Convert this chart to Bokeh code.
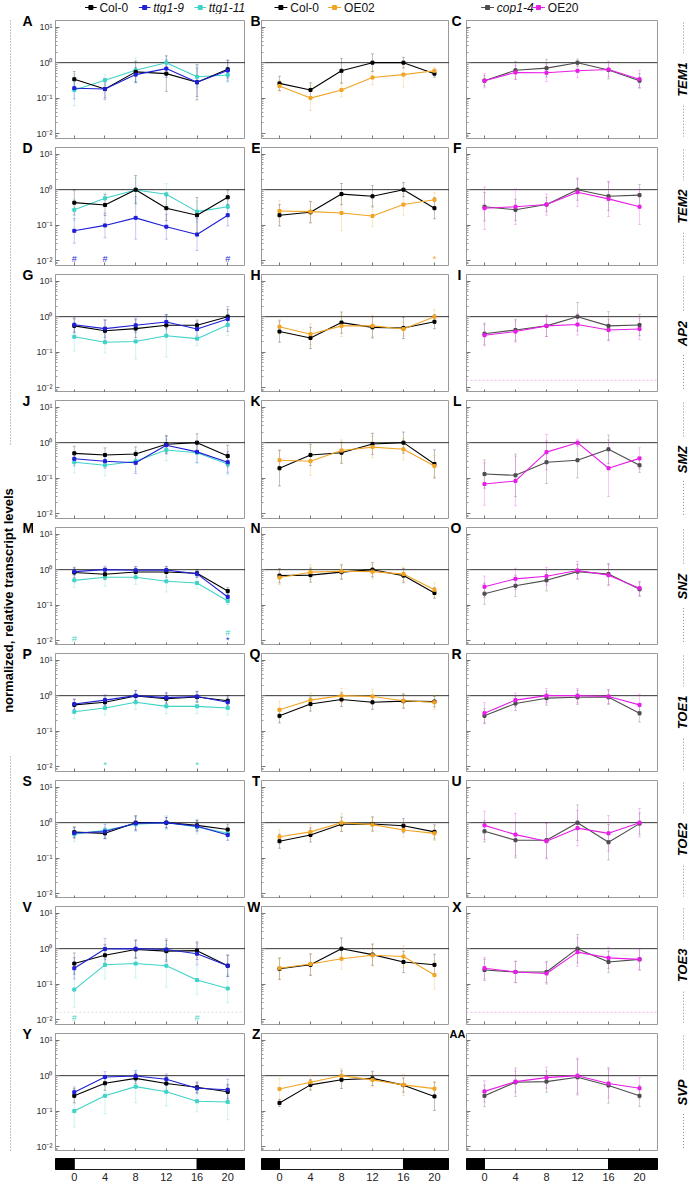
import math
from bokeh.plotting import figure
from bokeh.models import (Range1d, FixedTicker, Span, ColumnDataSource, Whisker, TeeHead)
from bokeh.layouts import row, column
from bokeh.embed import file_html
from bokeh.resources import INLINE
from bokeh.core.properties import value

# ---------------- data ----------------
hours = [0, 4, 8, 12, 16, 20]
light_start = [0]
light_end = [16]
dark_start = [-8, 16]
dark_end = [0, 24]

genes = ["TEM1", "TEM2", "AP2", "SMZ", "SNZ", "TOE1", "TOE2", "TOE3", "SVP"]
letters = [["A", "B", "C"], ["D", "E", "F"], ["G", "H", "I"], ["J", "K", "L"],
           ["M", "N", "O"], ["P", "Q", "R"], ["S", "T", "U"], ["V", "W", "X"],
           ["Y", "Z", "AA"]]

y_ticks = [0.01, 0.1, 1, 10]
y_tick_labels = ["10\u207b\u00b2", "10\u207b\u00b9", "10\u2070", "10\u00b9"]

# values (relative transcript levels) and error half-widths (in decades)
A_col0 = [0.34, 0.18, 0.55, 0.49, 0.28, 0.65];   A_col0_err = [0.22, 0.25, 0.3, 0.5, 0.5, 0.25]
A_ttg19 = [0.19, 0.18, 0.46, 0.68, 0.28, 0.60];  A_ttg19_err = [0.3, 0.3, 0.2, 0.25, 0.4, 0.3]
A_ttg111 = [0.17, 0.32, 0.61, 1.0, 0.40, 0.45];  A_ttg111_err = [0.45, 0.15, 0.35, 0.2, 0.3, 0.2]
B_col0 = [0.26, 0.17, 0.59, 1.0, 1.0, 0.49];     B_col0_err = [0.2, 0.2, 0.35, 0.25, 0.15, 0.1]
B_oe02 = [0.22, 0.10, 0.17, 0.38, 0.46, 0.59];   B_oe02_err = [0.15, 0.35, 0.2, 0.2, 0.35, 0.1]
C_cop14 = [0.31, 0.61, 0.70, 1.0, 0.62, 0.31];   C_cop14_err = [0.15, 0.25, 0.25, 0.1, 0.25, 0.2]
C_oe20 = [0.31, 0.53, 0.52, 0.59, 0.64, 0.34];   C_oe20_err = [0.2, 0.2, 0.25, 0.2, 0.2, 0.25]

D_col0 = [0.43, 0.37, 1.0, 0.30, 0.19, 0.61];    D_col0_err = [0.35, 0.3, 0.4, 0.35, 0.5, 0.2]
D_ttg19 = [0.069, 0.098, 0.16, 0.09, 0.054, 0.19]; D_ttg19_err = [0.35, 0.35, 0.6, 0.35, 0.45, 0.3]
D_ttg111 = [0.27, 0.57, 0.98, 0.74, 0.24, 0.33]; D_ttg111_err = [0.3, 0.15, 0.35, 0.3, 0.3, 0.2]
E_col0 = [0.19, 0.23, 0.75, 0.65, 1.0, 0.30];    E_col0_err = [0.3, 0.3, 0.3, 0.3, 0.2, 0.3]
E_oe02 = [0.25, 0.24, 0.22, 0.18, 0.38, 0.52];   E_oe02_err = [0.3, 0.3, 0.5, 0.3, 0.3, 0.2]
F_cop14 = [0.33, 0.27, 0.38, 1.0, 0.65, 0.70];   F_cop14_err = [0.4, 0.3, 0.2, 0.3, 0.4, 0.3]
F_oe20 = [0.30, 0.33, 0.38, 0.85, 0.55, 0.33];   F_oe20_err = [0.6, 0.5, 0.3, 0.4, 0.5, 0.5]

G_col0 = [0.55, 0.40, 0.46, 0.57, 0.57, 1.0];    G_col0_err = [0.2, 0.3, 0.25, 0.3, 0.15, 0.2]
G_ttg19 = [0.59, 0.46, 0.57, 0.71, 0.45, 0.86];  G_ttg19_err = [0.2, 0.25, 0.2, 0.2, 0.2, 0.35]
G_ttg111 = [0.27, 0.19, 0.20, 0.29, 0.24, 0.58]; G_ttg111_err = [0.4, 0.3, 0.5, 0.6, 0.2, 0.3]
H_col0 = [0.38, 0.25, 0.68, 0.50, 0.48, 0.72];   H_col0_err = [0.3, 0.3, 0.3, 0.3, 0.3, 0.2]
H_oe02 = [0.52, 0.32, 0.55, 0.55, 0.45, 1.0];    H_oe02_err = [0.2, 0.3, 0.3, 0.3, 0.2, 0.2]
I_cop14 = [0.33, 0.42, 0.55, 1.0, 0.55, 0.58];   I_cop14_err = [0.3, 0.3, 0.3, 0.4, 0.4, 0.3]
I_oe20 = [0.30, 0.38, 0.55, 0.60, 0.42, 0.45];   I_oe20_err = [0.3, 0.3, 0.3, 0.3, 0.3, 0.3]

J_col0 = [0.50, 0.45, 0.48, 0.90, 1.0, 0.42];    J_col0_err = [0.2, 0.2, 0.2, 0.25, 0.25, 0.3]
J_ttg19 = [0.35, 0.30, 0.27, 0.85, 0.55, 0.28];  J_ttg19_err = [0.2, 0.2, 0.3, 0.25, 0.3, 0.3]
J_ttg111 = [0.28, 0.23, 0.30, 0.62, 0.52, 0.25]; J_ttg111_err = [0.3, 0.3, 0.3, 0.3, 0.3, 0.3]
K_col0 = [0.19, 0.45, 0.52, 0.92, 1.0, 0.25];    K_col0_err = [0.5, 0.3, 0.3, 0.3, 0.3, 0.4]
K_oe02 = [0.32, 0.30, 0.60, 0.75, 0.65, 0.22];   K_oe02_err = [0.3, 0.4, 0.3, 0.3, 0.3, 0.3]
L_cop14 = [0.13, 0.12, 0.28, 0.32, 0.65, 0.23];  L_cop14_err = [0.4, 0.6, 0.6, 0.5, 0.4, 0.2]
L_oe20 = [0.068, 0.083, 0.54, 1.0, 0.19, 0.36];  L_oe20_err = [0.6, 0.7, 0.5, 0.1, 0.8, 0.3]

M_col0 = [0.83, 0.74, 0.86, 0.86, 0.79, 0.25];   M_col0_err = [0.15, 0.15, 0.15, 0.15, 0.1, 0.1]
M_ttg19 = [0.88, 1.0, 0.96, 0.98, 0.76, 0.17];   M_ttg19_err = [0.1, 0.1, 0.1, 0.1, 0.1, 0.1]
M_ttg111 = [0.50, 0.61, 0.61, 0.47, 0.42, 0.13]; M_ttg111_err = [0.2, 0.25, 0.2, 0.3, 0.15, 0.1]
N_col0 = [0.68, 0.70, 0.85, 1.0, 0.68, 0.22];    N_col0_err = [0.2, 0.2, 0.2, 0.2, 0.2, 0.15]
N_oe02 = [0.60, 0.85, 0.90, 0.88, 0.75, 0.27];   N_oe02_err = [0.2, 0.2, 0.2, 0.2, 0.2, 0.2]
O_cop14 = [0.21, 0.35, 0.50, 0.88, 0.75, 0.28];  O_cop14_err = [0.3, 0.3, 0.3, 0.2, 0.3, 0.2]
O_oe20 = [0.33, 0.55, 0.65, 0.95, 0.70, 0.30];   O_oe20_err = [0.3, 0.3, 0.25, 0.25, 0.3, 0.2]

P_col0 = [0.55, 0.65, 0.98, 0.82, 0.92, 0.72];   P_col0_err = [0.15, 0.15, 0.15, 0.15, 0.15, 0.15]
P_ttg19 = [0.58, 0.75, 1.0, 0.88, 0.95, 0.65];   P_ttg19_err = [0.15, 0.15, 0.15, 0.15, 0.15, 0.15]
P_ttg111 = [0.35, 0.45, 0.65, 0.50, 0.50, 0.45]; P_ttg111_err = [0.2, 0.2, 0.2, 0.2, 0.2, 0.2]
Q_col0 = [0.27, 0.58, 0.78, 0.65, 0.70, 0.68];   Q_col0_err = [0.2, 0.2, 0.2, 0.2, 0.2, 0.15]
Q_oe02 = [0.40, 0.75, 1.0, 0.95, 0.72, 0.65];    Q_oe02_err = [0.25, 0.2, 0.2, 0.2, 0.2, 0.2]
R_cop14 = [0.27, 0.60, 0.85, 0.90, 0.90, 0.32];  R_cop14_err = [0.2, 0.2, 0.2, 0.2, 0.2, 0.25]
R_oe20 = [0.32, 0.75, 1.0, 1.0, 0.95, 0.55];     R_oe20_err = [0.3, 0.2, 0.2, 0.2, 0.2, 0.3]

S_col0 = [0.54, 0.50, 1.0, 1.0, 0.84, 0.64];     S_col0_err = [0.15, 0.15, 0.2, 0.15, 0.15, 0.15]
S_ttg19 = [0.51, 0.56, 0.96, 1.0, 0.79, 0.45];   S_ttg19_err = [0.15, 0.2, 0.2, 0.15, 0.15, 0.15]
S_ttg111 = [0.47, 0.61, 0.90, 1.0, 0.76, 0.50];  S_ttg111_err = [0.2, 0.2, 0.2, 0.2, 0.2, 0.2]
T_col0 = [0.30, 0.45, 0.90, 0.92, 0.82, 0.55];   T_col0_err = [0.2, 0.2, 0.2, 0.2, 0.2, 0.2]
T_oe02 = [0.40, 0.55, 1.0, 0.88, 0.62, 0.50];    T_oe02_err = [0.2, 0.2, 0.25, 0.2, 0.2, 0.2]
U_cop14 = [0.57, 0.32, 0.32, 1.0, 0.28, 0.94];   U_cop14_err = [0.3, 0.5, 0.5, 0.5, 0.5, 0.3]
U_oe20 = [0.84, 0.46, 0.30, 0.70, 0.50, 1.0];    U_oe20_err = [0.4, 0.6, 0.5, 0.5, 0.5, 0.4]

V_col0 = [0.38, 0.65, 0.95, 0.85, 0.88, 0.33];   V_col0_err = [0.3, 0.3, 0.25, 0.3, 0.25, 0.3]
V_ttg19 = [0.28, 0.98, 1.0, 0.95, 0.72, 0.33];   V_ttg19_err = [0.3, 0.3, 0.25, 0.3, 0.3, 0.3]
V_ttg111 = [0.07, 0.35, 0.38, 0.33, 0.13, 0.075]; V_ttg111_err = [0.5, 0.4, 0.4, 0.6, 0.4, 0.4]
W_col0 = [0.27, 0.35, 1.0, 0.68, 0.42, 0.35];    W_col0_err = [0.3, 0.3, 0.3, 0.3, 0.3, 0.3]
W_oe02 = [0.28, 0.37, 0.52, 0.65, 0.60, 0.18];   W_oe02_err = [0.3, 0.3, 0.3, 0.3, 0.3, 0.4]
X_cop14 = [0.25, 0.22, 0.22, 1.0, 0.42, 0.50];   X_cop14_err = [0.3, 0.3, 0.3, 0.4, 0.3, 0.3]
X_oe20 = [0.28, 0.22, 0.20, 0.80, 0.55, 0.50];   X_oe20_err = [0.3, 0.3, 0.3, 0.4, 0.3, 0.3]

Y_col0 = [0.27, 0.61, 0.84, 0.60, 0.47, 0.35];   Y_col0_err = [0.2, 0.2, 0.15, 0.2, 0.15, 0.2]
Y_ttg19 = [0.34, 0.92, 0.98, 0.79, 0.44, 0.40];  Y_ttg19_err = [0.15, 0.15, 0.15, 0.15, 0.15, 0.3]
Y_ttg111 = [0.10, 0.27, 0.49, 0.35, 0.19, 0.18]; Y_ttg111_err = [0.45, 0.5, 0.45, 0.4, 0.3, 0.5]
Z_col0 = [0.17, 0.55, 0.77, 0.84, 0.54, 0.26];   Z_col0_err = [0.1, 0.15, 0.25, 0.2, 0.2, 0.4]
Z_oe02 = [0.42, 0.65, 1.0, 0.76, 0.55, 0.43];    Z_oe02_err = [0.3, 0.2, 0.2, 0.2, 0.3, 0.2]
AA_cop14 = [0.27, 0.65, 0.68, 0.90, 0.53, 0.27]; AA_cop14_err = [0.3, 0.4, 0.3, 0.5, 0.5, 0.3]
AA_oe20 = [0.36, 0.68, 0.88, 1.0, 0.60, 0.44];   AA_oe20_err = [0.3, 0.3, 0.3, 0.5, 0.4, 0.3]

# significance marks: (panel, series, hour, symbol, level)
sig_marks = [
    ("D", "ttg19", 0, "#", 0.011), ("D", "ttg19", 4, "#", 0.011), ("D", "ttg19", 20, "#", 0.011),
    ("E", "oe02", 20, "*", 0.011),
    ("M", "ttg111", 0, "#", 0.011), ("M", "ttg111", 20, "#", 0.016), ("M", "ttg19", 20, "*", 0.0105),
    ("P", "ttg111", 4, "*", 0.011), ("P", "ttg111", 16, "*", 0.011),
    ("V", "ttg111", 0, "#", 0.011), ("V", "ttg111", 16, "#", 0.011),
]

# ---------------- styles / layout ----------------
SERIES = {
    "col0": ("Col-0", "#000000", "normal"),
    "ttg19": ("ttg1-9", "#1f1fd6", "italic"),
    "ttg111": ("ttg1-11", "#3fd3c8", "italic"),
    "oe02": ("OE02", "#f2a424", "normal"),
    "cop14": ("cop1-4", "#4d4d4d", "italic"),
    "oe20": ("OE20", "#e61ee6", "normal"),
}
COL_SERIES = [["ttg111", "col0", "ttg19"], ["col0", "oe02"], ["cop14", "oe20"]]
LEGEND_ORDER = [["col0", "ttg19", "ttg111"], ["col0", "oe02"], ["cop14", "oe20"]]
LEGEND_X = [[33, 93, 155], [13, 67], [15, 67]]
FAINT = {"I": "#e61ee6", "V": "#aaaaaa", "X": "#e61ee6"}

FONT = "Liberation Sans"
FRAME_H = 118
TOP_B = [6, 8, 8, 8, 8, 8, 8, 8, 8]
BOTTOM_B = [1, 1, 0, 1, 0, 1, 0, 1, 0]
# (left border, frame width, right border, x start, x end)
COLS = [(20, 192, 0, -2.45, 22.32), (1, 188, 0, -2.32, 21.94), (1, 191, 3, -2.32, 22.32)]
Y0, Y1 = 10 ** -2.14, 10 ** 1.19
TOTAL_H = 1183
LEGEND_H = 14
FRAME_TOPS = [20, 147, 274, 400, 527, 653, 780, 906, 1033]

data = globals()


def strip(width, height=TOTAL_H, flip=True):
    p = figure(width=width, height=height, x_range=Range1d(0, width),
               y_range=Range1d(height, 0) if flip else Range1d(0, height),
               x_axis_location=None, y_axis_location=None,
               min_border=0, output_backend="svg", toolbar_location=None)
    p.grid.visible = False
    p.outline_line_color = None
    return p


def add_letters(p, c, x, align):
    for r in range(9):
        txt = letters[r][c]
        long_txt = len(txt) > 1
        p.text(x=[0 if long_txt else x], y=[FRAME_TOPS[r]], text=[txt],
               text_font=value(FONT), text_font_style="bold",
               text_font_size="11px" if long_txt else "14px",
               text_align="left" if long_txt else align,
               text_baseline="alphabetic", text_color="black")


def make_panel(r, c):
    letter = letters[r][c]
    top = TOP_B[r]
    bottom = BOTTOM_B[r]
    left, fw, right, xs, xe = COLS[c]
    p = figure(width=left + fw + right, height=top + FRAME_H + bottom,
               y_axis_type="log", x_range=Range1d(xs, xe), y_range=Range1d(Y0, Y1),
               output_backend="svg", toolbar_location=None,
               min_border_left=left, min_border_right=right,
               min_border_top=top, min_border_bottom=bottom)
    p.grid.visible = False
    p.outline_line_color = "#9a9a9a"
    p.background_fill_color = "white"
    p.border_fill_color = "white"

    ya = p.yaxis[0]
    ya.ticker = FixedTicker(ticks=y_ticks,
                            minor_ticks=[m * 10.0 ** e for e in range(-3, 2) for m in range(2, 10)])
    ya.axis_line_color = "#9a9a9a"
    ya.major_tick_in = 4
    ya.major_tick_out = 0
    ya.minor_tick_in = 2
    ya.minor_tick_out = 0
    ya.major_tick_line_color = "#777777"
    ya.minor_tick_line_color = "#999999"
    if c == 0:
        ya.major_label_overrides = dict(zip(y_ticks, y_tick_labels))
        ya.major_label_text_font = FONT
        ya.major_label_text_font_size = "9px"
        ya.major_label_text_color = "#333333"
        ya.major_label_standoff = 3
    else:
        ya.major_label_text_font_size = "1px"
        ya.major_label_text_alpha = 0
        ya.major_label_standoff = 0

    xa = p.xaxis[0]
    xa.ticker = FixedTicker(ticks=hours)
    xa.axis_line_color = None
    xa.major_tick_in = 3
    xa.major_tick_out = 0
    xa.minor_tick_line_color = None
    xa.major_tick_line_color = "#777777"
    xa.major_label_text_font_size = "1px"
    xa.major_label_text_alpha = 0
    xa.major_label_standoff = 0

    p.add_layout(Span(location=1, dimension="width", line_color="#333333",
                      line_width=1, level="underlay"))
    if letter in FAINT:
        p.add_layout(Span(location=0.016, dimension="width", line_color=FAINT[letter],
                          line_width=1, line_alpha=0.35, line_dash="2 2", level="underlay"))

    for key in COL_SERIES[c]:
        vals = data[f"{letter}_{key}"]
        errs = data[f"{letter}_{key}_err"]
        label, color, style = SERIES[key]
        lo = [v / 10 ** e for v, e in zip(vals, errs)]
        hi = [v * 10 ** e for v, e in zip(vals, errs)]
        src = ColumnDataSource(dict(base=hours, lower=lo, upper=hi))
        p.add_layout(Whisker(source=src, base="base", lower="lower", upper="upper",
                             line_color=color, line_alpha=0.25, line_width=1,
                             upper_head=TeeHead(size=3, line_color=color, line_alpha=0.25),
                             lower_head=TeeHead(size=3, line_color=color, line_alpha=0.25),
                             level="underlay"))
        p.line(hours, vals, line_color=color, line_width=1.1)
        p.scatter(hours, vals, marker="square", size=3, fill_color=color, line_color=color)

    for (pl, key, hx, sym, lvl) in sig_marks:
        if pl == letter:
            p.text(x=[hx], y=[lvl], text=[sym], text_color=SERIES[key][1],
                   text_font=value(FONT), text_font_size="9px",
                   text_align="center", text_baseline="middle")
    return p


def make_legend_fig(c):
    left, fw, right, xs, xe = COLS[c]
    w = left + fw + right
    p = strip(w, LEGEND_H, flip=False)
    ym = LEGEND_H / 2
    for key, lx in zip(LEGEND_ORDER[c], LEGEND_X[c]):
        label, color, style = SERIES[key]
        p.segment(x0=[lx], y0=[ym], x1=[lx + 13], y1=[ym], line_color=color, line_width=1.2)
        p.scatter(x=[lx + 6.5], y=[ym], marker="square", size=4, fill_color=color, line_color=color)
        p.text(x=[lx + 16], y=[ym], text=[label], text_font=value(FONT),
               text_font_size="12px", text_font_style=style, text_color="#111111",
               text_align="left", text_baseline="middle")
    return p


def make_bar(c):
    left, fw, right, xs, xe = COLS[c]
    p = figure(width=left + fw + right, height=32, x_range=Range1d(xs, xe),
               y_range=Range1d(0, 1), y_axis_location=None,
               output_backend="svg", toolbar_location=None,
               min_border_left=left, min_border_right=right,
               min_border_top=7, min_border_bottom=0)
    p.grid.visible = False
    p.outline_line_color = "black"
    p.quad(left=dark_start, right=dark_end, bottom=0, top=1,
           fill_color="black", line_color="black")
    p.quad(left=light_start, right=light_end, bottom=0, top=1,
           fill_color="white", line_color="black")
    xa = p.xaxis[0]
    xa.ticker = FixedTicker(ticks=hours)
    xa.axis_line_color = None
    xa.major_tick_in = 0
    xa.major_tick_out = 0
    xa.minor_tick_line_color = None
    xa.major_label_text_font = FONT
    xa.major_label_text_font_size = "11px"
    xa.major_label_text_color = "#222222"
    xa.major_label_standoff = 3
    return p


# left strip: axis title, dotted guides, letters of first column
left_strip = strip(33)
left_strip.segment(x0=[10, 10], y0=[20, 756], x1=[10, 10], y1=[446, 1151],
                   line_color="#8a8a8a", line_dash="1 2", line_width=1)
left_strip.text(x=[8], y=[600], text=["normalized, relative transcript levels"], angle=math.pi / 2,
                text_font=value(FONT), text_font_style="bold", text_font_size="13px",
                text_align="center", text_baseline="middle", text_color="black")
add_letters(left_strip, 0, 22, "left")

gutter2 = strip(15)
add_letters(gutter2, 1, 15, "right")
gutter3 = strip(16)
add_letters(gutter3, 2, 12, "right")

# right strip: gene names
right_strip = strip(30)
centers = [t + FRAME_H / 2 for t in FRAME_TOPS]
x0s, y0s, x1s, y1s = [], [], [], []
for g, t, cy in zip(genes, FRAME_TOPS, centers):
    half = len(g) * 4.8 + 7
    x0s += [23, 23]; x1s += [23, 23]
    y0s += [t + 2, cy + half]; y1s += [cy - half, t + FRAME_H - 2]
right_strip.segment(x0=x0s, y0=y0s, x1=x1s, y1=y1s, line_color="#8a8a8a",
                    line_dash="1 2", line_width=1)
right_strip.text(x=[22] * len(genes), y=centers, text=genes, angle=math.pi / 2,
                 text_font=value(FONT), text_font_style="bold italic", text_font_size="13px",
                 text_align="center", text_baseline="middle", text_color="black")

cols = []
for c in range(3):
    figs = [make_legend_fig(c)] + [make_panel(r, c) for r in range(9)] + [make_bar(c)]
    cols.append(column(*figs, spacing=0))

layout = row(left_strip, cols[0], gutter2, cols[1], gutter3, cols[2], right_strip, spacing=0)

open("out.html", "w").write(file_html(layout, INLINE))
